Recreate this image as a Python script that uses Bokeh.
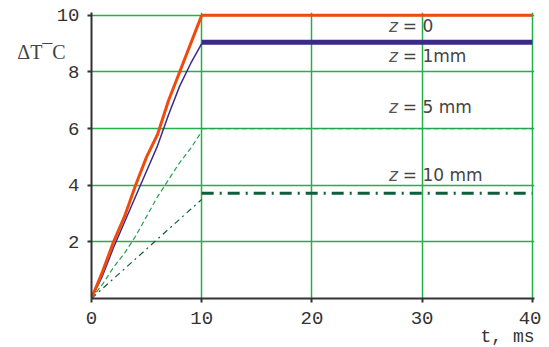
from bokeh.plotting import figure
from bokeh.models import Range1d, FixedTicker, Label, Title
from bokeh.embed import file_html
from bokeh.resources import INLINE

# ---- data ----
t_ramp = [0, 1, 2, 3, 4, 5, 6, 7, 8, 9, 10]
t_flat = [10, 40]

z0_ramp = [0, 0.95, 2.0, 2.9, 4.0, 5.0, 5.8, 7.0, 8.0, 9.0, 10.0]
z0_flat = [10.0, 10.0]

z1_ramp = [0, 0.8, 1.8, 2.7, 3.6, 4.5, 5.4, 6.5, 7.5, 8.3, 9.0]
z1_flat = [9.05, 9.05]

z5_ramp = [0, 0.5, 1.1, 1.6, 2.2, 2.9, 3.6, 4.2, 4.8, 5.3, 5.9]
z5_flat = [6.0, 6.0]

z10_ramp = [0, 0.35, 0.7, 1.05, 1.4, 1.75, 2.1, 2.45, 2.8, 3.15, 3.5]
z10_flat = [3.72, 3.72]

x_ticks = [0, 10, 20, 30, 40]
y_ticks = [2, 4, 6, 8, 10]

labels = ["= 0", "= 1mm", "= 5 mm", "= 10 mm"]
label_y = [9.63, 8.55, 6.75, 4.35]

ORANGE = "#f04b0c"
PURPLE = "#3b2a8c"
GREEN = "#22a04e"
DKGREEN = "#0e5e3c"
GRID = "#22b04a"

p = figure(width=541, height=347, output_backend="svg", toolbar_location=None,
           x_range=Range1d(0, 40.2), y_range=Range1d(0, 10.1),
           min_border_left=91, min_border_right=7, min_border_top=12,
           min_border_bottom=49)
p.outline_line_color = None
p.background_fill_color = "white"
p.border_fill_color = "white"

for ax, ticks in ((p.xaxis, x_ticks), (p.yaxis, y_ticks)):
    ax.ticker = FixedTicker(ticks=ticks)
    ax.axis_line_color = "#333333"
    ax.axis_line_width = 2
    ax.major_tick_line_color = "#333333"
    ax.major_tick_line_width = 2
    ax.major_tick_out = 4
    ax.major_tick_in = 0
    ax.minor_tick_line_color = None
    ax.major_label_text_font = "Liberation Mono"
    ax.major_label_text_font_size = "19px"
    ax.major_label_text_color = "#333333"
p.xaxis.major_label_standoff = 9
p.yaxis.major_label_standoff = 8

ya = p.yaxis[0]
ya.axis_label = "\n\n\nΔT¯C"
ya.axis_label_text_font = "Liberation Serif"
ya.axis_label_text_font_size = "20px"
ya.axis_label_text_font_style = "normal"
ya.axis_label_text_color = "#444444"
ya.axis_label_orientation = "horizontal"
ya.axis_label_align = "end"
ya.axis_label_standoff = -12

p.add_layout(Title(text="t, ms", align="right", offset=0, standoff=-3,
                   text_font="Liberation Mono", text_font_size="18px",
                   text_font_style="normal", text_color="#333333"), "below")

p.xgrid.ticker = FixedTicker(ticks=x_ticks)
p.ygrid.ticker = FixedTicker(ticks=y_ticks)
for g in (p.xgrid, p.ygrid):
    g.grid_line_color = GRID
    g.grid_line_width = 1.5

# z = 10 mm
p.line(t_ramp, z10_ramp, line_color=DKGREEN, line_width=1.2, line_dash="6 4 2 4")
p.line(t_flat, z10_flat, line_color=DKGREEN, line_width=3, line_dash="12 6 2 6")
# z = 5 mm
p.line(t_ramp, z5_ramp, line_color=GREEN, line_width=1.2, line_dash="5 3")
p.line(t_flat, z5_flat, line_color=GREEN, line_width=1.2, line_dash="5 3")
# z = 1 mm
p.line(t_ramp, z1_ramp, line_color=PURPLE, line_width=1.5)
p.line(t_flat, z1_flat, line_color=PURPLE, line_width=5)
# z = 0
p.line(t_ramp, z0_ramp, line_color=ORANGE, line_width=3)
p.line(t_flat, z0_flat, line_color=ORANGE, line_width=3)

for txt, yy in zip(labels, label_y):
    p.add_layout(Label(x=27.0, y=yy, text="z", text_font="DejaVu Sans",
                       text_font_style="italic", text_font_size="17px",
                       text_color="#555555", text_baseline="middle"))
    p.add_layout(Label(x=28.25, y=yy, text=txt, text_font="DejaVu Sans",
                       text_font_size="17px", text_color="#444444",
                       text_baseline="middle"))

open("out.html", "w").write(file_html(p, INLINE))
